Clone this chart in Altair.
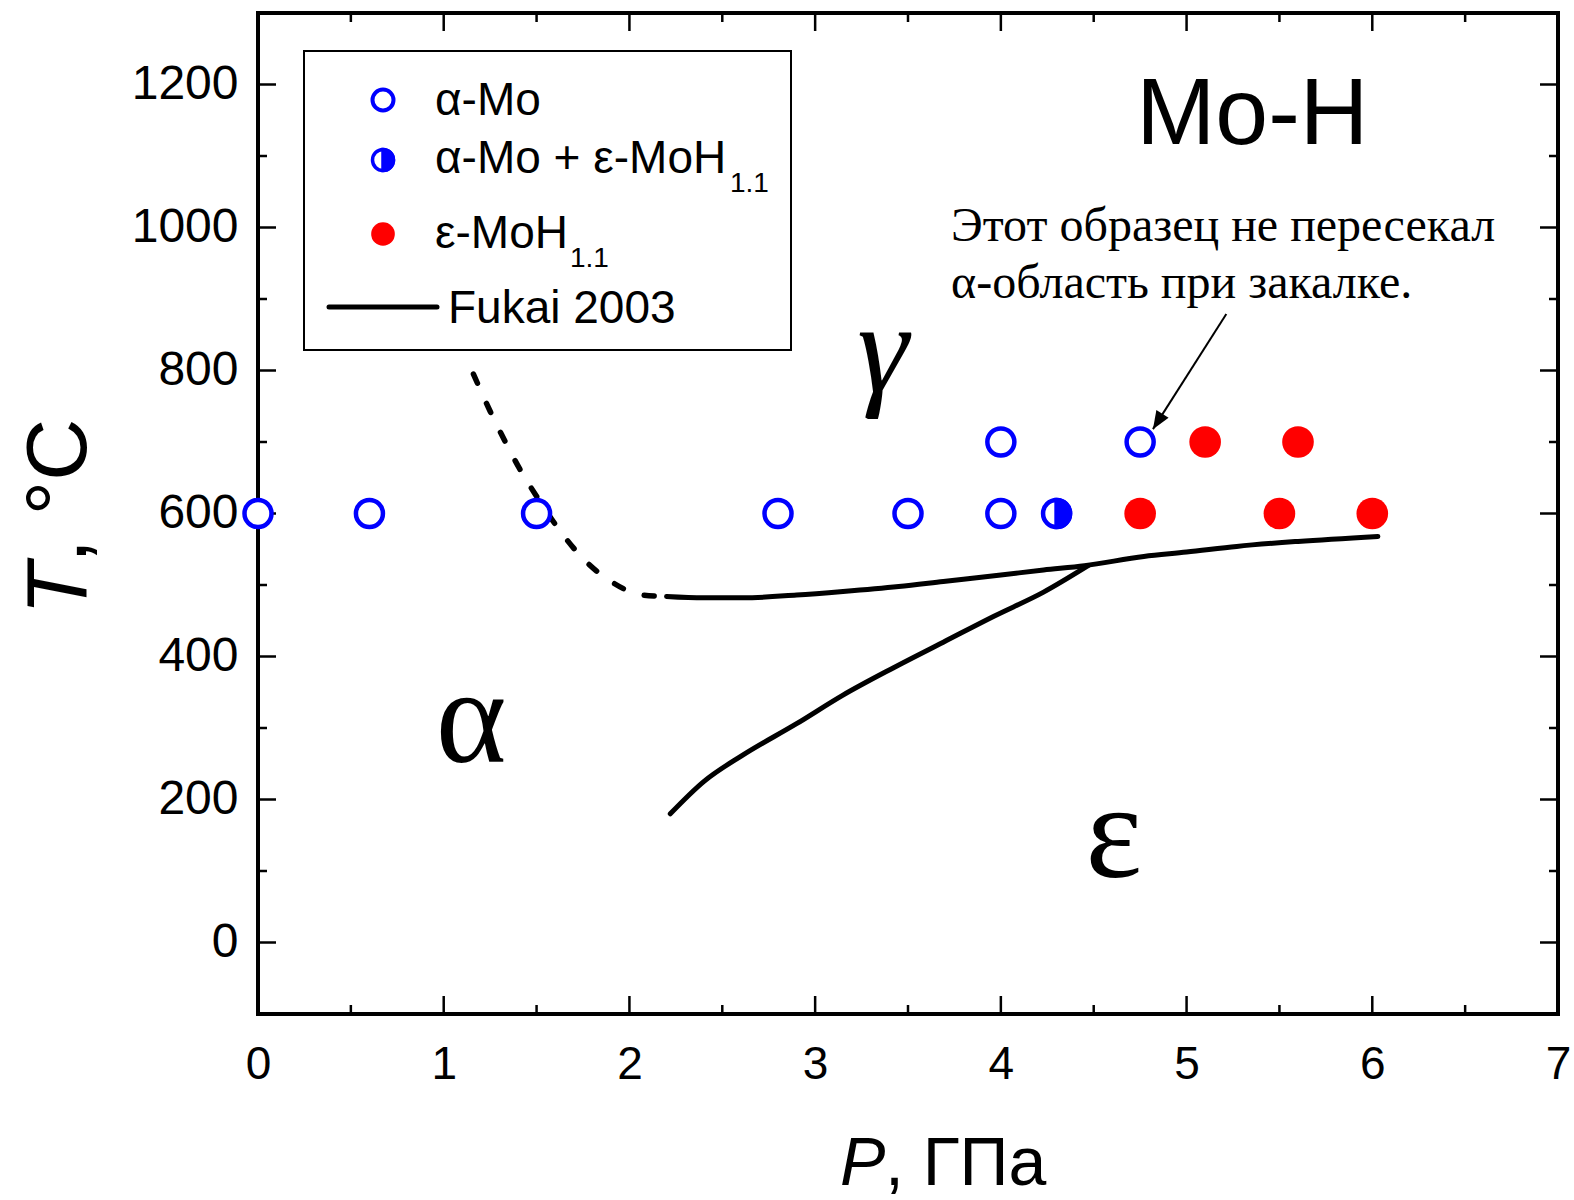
import altair as alt
import pandas as pd

# ---------------- data ----------------
alpha_P = [0.0, 0.6, 1.5, 2.8, 3.5, 4.0, 4.0, 4.75]
alpha_T = [600, 600, 600, 600, 600, 600, 700, 700]
mix_P = [4.3]
mix_T = [600]
eps_P = [4.75, 5.5, 6.0, 5.1, 5.6]
eps_T = [600, 600, 600, 700, 700]

fukai_upper_P = [2.20, 2.40, 2.61, 2.90, 3.15, 3.45, 3.69, 4.00, 4.23, 4.45, 4.77, 5.00, 5.27, 5.60, 6.03]
fukai_upper_T = [484, 482, 482, 486, 491, 498, 505, 514, 521, 527, 540, 546, 554, 561, 568]
fukai_lower_P = [2.22, 2.40, 2.61, 2.90, 3.15, 3.42, 3.69, 3.96, 4.23, 4.47]
fukai_lower_T = [180, 225, 262, 306, 346, 384, 420, 456, 490, 527]
dashed_P = [1.16, 1.25, 1.33, 1.41, 1.50, 1.62, 1.75, 1.90, 2.07, 2.20]
dashed_T = [795, 743, 701, 662, 624, 578, 537, 505, 486, 484]

x_major = [0, 1, 2, 3, 4, 5, 6, 7]
x_minor = [0.5, 1.5, 2.5, 3.5, 4.5, 5.5, 6.5]
y_major = [0, 200, 400, 600, 800, 1000, 1200]
y_minor = [-100, 100, 300, 500, 700, 900, 1100, 1300]

greek_text = ["α", "ε"]
greek_P = [1.147, 4.608]
greek_T = [252, 91]
gamma_text = "γ"
gamma_P = 3.364
gamma_T = 771

title_text = "Mo-H"
title_P = 5.354
title_T = 1117

note_lines = ["Этот образец не пересекал", "α-область при закалке."]
note_P = [3.732, 3.732]
note_T = [981, 901]

arrow_P = [5.214, 4.819]
arrow_T = [879, 718]

legend_labels = ["α-Mo", "α-Mo + ε-MoH", "ε-MoH", "Fukai 2003"]

W, H = 1300, 1001
BLUE = "#0000FF"
RED = "#FF0000"
SANS = "Liberation Sans"
SERIF = "Liberation Serif"

xs = alt.Scale(domain=[0, 7], nice=False, zero=False)
ys = alt.Scale(domain=[-100, 1300], nice=False, zero=False)
xaxis = alt.Axis(values=x_major, ticks=False, domain=False, grid=False, labelFontSize=46,
                 labelFont=SANS, labelColor="black", labelPadding=28, title=None, format="d",
                 labelFlush=False, labelOverlap=False)
yaxis = alt.Axis(values=y_major, ticks=False, domain=False, grid=False, labelFontSize=48,
                 labelFont=SANS, labelColor="black", labelPadding=20, title=None, format="d",
                 labelFlush=False, labelOverlap=False)


def X(f="P"):
    return alt.X(f"{f}:Q", scale=xs, axis=xaxis)


def Y(f="T"):
    return alt.Y(f"{f}:Q", scale=ys, axis=yaxis)


one = pd.DataFrame({"a": [0]})


def df_line(P, T):
    return pd.DataFrame({"P": P, "T": T, "i": list(range(len(P)))})


def txt(text, x, y, size, font=SANS, align="left", baseline="alphabetic", style="normal", angle=0):
    return alt.Chart(one).mark_text(text=text, align=align, baseline=baseline, fontSize=size,
                                    font=font, fontStyle=style, angle=angle, color="black").encode(
        x=alt.value(x), y=alt.value(y))


layers = []

# frame
layers.append(alt.Chart(one).mark_rect(filled=False, stroke="black", strokeWidth=4).encode(
    x=alt.value(0), x2=alt.value(W), y=alt.value(0), y2=alt.value(H)))

# ticks (inward) on all four sides
for vals, big in [(x_major, True), (x_minor, False)]:
    L = 18 if big else 9
    d = pd.DataFrame({"P": vals})
    layers.append(alt.Chart(d).mark_rule(color="black", strokeWidth=2.5).encode(
        x=X(), y=alt.value(H), y2=alt.value(H - L)))
    layers.append(alt.Chart(d).mark_rule(color="black", strokeWidth=2.5).encode(
        x=X(), y=alt.value(0), y2=alt.value(L)))
for vals, big in [(y_major, True), (y_minor, False)]:
    L = 18 if big else 9
    d = pd.DataFrame({"T": vals})
    layers.append(alt.Chart(d).mark_rule(color="black", strokeWidth=2.5).encode(
        y=Y(), x=alt.value(0), x2=alt.value(L)))
    layers.append(alt.Chart(d).mark_rule(color="black", strokeWidth=2.5).encode(
        y=Y(), x=alt.value(W), x2=alt.value(W - L)))

# curves
layers.append(alt.Chart(df_line(dashed_P, dashed_T)).mark_line(
    color="black", strokeWidth=5.5, strokeDash=[10, 22], strokeCap="round",
    interpolate="monotone").encode(x=X(), y=Y(), order="i:Q"))
layers.append(alt.Chart(df_line(fukai_upper_P, fukai_upper_T)).mark_line(
    color="black", strokeWidth=5, strokeCap="round", interpolate="monotone").encode(
    x=X(), y=Y(), order="i:Q"))
layers.append(alt.Chart(df_line(fukai_lower_P, fukai_lower_T)).mark_line(
    color="black", strokeWidth=5, strokeCap="round", interpolate="monotone").encode(
    x=X(), y=Y(), order="i:Q"))

# points
HALF = "M0,-1A1,1,0,0,1,0,1Z"
layers.append(alt.Chart(pd.DataFrame({"P": alpha_P, "T": alpha_T})).mark_point(
    shape="circle", filled=False, fill="white", fillOpacity=1, stroke=BLUE, strokeWidth=4.5,
    size=730, opacity=1).encode(x=X(), y=Y()))
layers.append(alt.Chart(pd.DataFrame({"P": mix_P, "T": mix_T})).mark_point(
    shape="circle", filled=False, fill="white", fillOpacity=1, stroke=BLUE, strokeWidth=4.5,
    size=730, opacity=1).encode(x=X(), y=Y()))
layers.append(alt.Chart(pd.DataFrame({"P": mix_P, "T": mix_T})).mark_point(
    shape=HALF, filled=True, fill=BLUE, stroke=BLUE, strokeWidth=4.5, size=730, opacity=1).encode(
    x=X(), y=Y()))
layers.append(alt.Chart(pd.DataFrame({"P": eps_P, "T": eps_T})).mark_point(
    shape="circle", filled=True, fill=RED, size=1000, opacity=1, strokeWidth=0).encode(x=X(), y=Y()))

# arrow
layers.append(alt.Chart(df_line(arrow_P, arrow_T)).mark_line(color="black", strokeWidth=2).encode(
    x=X(), y=Y(), order="i:Q"))
layers.append(alt.Chart(pd.DataFrame({"P": arrow_P[1:], "T": arrow_T[1:]})).mark_point(
    shape="M0,0L0.4,1L-0.4,1Z", filled=True, fill="black", size=1296, angle=212, opacity=1,
    strokeWidth=0).encode(x=X(), y=Y()))

# region labels
layers.append(alt.Chart(pd.DataFrame({"P": greek_P, "T": greek_T, "t": greek_text})).mark_text(
    font=SERIF, fontSize=135, align="center", baseline="alphabetic", color="black").encode(
    x=X(), y=Y(), text="t:N"))
layers.append(alt.Chart(pd.DataFrame({"P": [gamma_P], "T": [gamma_T], "t": [gamma_text]})).mark_text(
    font=SERIF, fontSize=130, fontStyle="italic", align="center", baseline="alphabetic",
    color="black").encode(x=X(), y=Y(), text="t:N"))
layers.append(alt.Chart(pd.DataFrame({"P": [title_P], "T": [title_T], "t": [title_text]})).mark_text(
    font=SANS, fontSize=95, align="center", baseline="alphabetic", color="black").encode(
    x=X(), y=Y(), text="t:N"))
layers.append(alt.Chart(pd.DataFrame({"P": note_P, "T": note_T, "t": note_lines})).mark_text(
    font=SERIF, fontSize=48, align="left", baseline="alphabetic", color="black").encode(
    x=X(), y=Y(), text="t:N"))

# legend
layers.append(alt.Chart(one).mark_rect(fill="white", stroke="black", strokeWidth=2).encode(
    x=alt.value(46), x2=alt.value(533), y=alt.value(38), y2=alt.value(337)))
layers.append(alt.Chart(one).mark_point(shape="circle", filled=False, fill="white", fillOpacity=1,
                                        stroke=BLUE, strokeWidth=4, size=441, opacity=1).encode(
    x=alt.value(125), y=alt.value(87)))
layers.append(alt.Chart(one).mark_point(shape="circle", filled=False, fill="white", fillOpacity=1,
                                        stroke=BLUE, strokeWidth=3.5, size=441, opacity=1).encode(
    x=alt.value(125), y=alt.value(147)))
layers.append(alt.Chart(one).mark_point(shape=HALF, filled=True, fill=BLUE, stroke=BLUE,
                                        strokeWidth=3.5, size=441, opacity=1).encode(
    x=alt.value(125), y=alt.value(147)))
layers.append(alt.Chart(one).mark_point(shape="circle", filled=True, fill=RED, size=560, opacity=1,
                                        strokeWidth=0).encode(x=alt.value(125), y=alt.value(221)))
layers.append(alt.Chart(one).mark_rule(color="black", strokeWidth=5, strokeCap="round").encode(
    x=alt.value(71), x2=alt.value(179), y=alt.value(294)))
layers.append(txt(legend_labels[0], 177, 102, 46))
layers.append(txt(legend_labels[1], 177, 160, 46))
layers.append(txt("1.1", 472, 179, 28))
layers.append(txt(legend_labels[2], 177, 235, 46))
layers.append(txt("1.1", 312, 254, 28))
layers.append(txt(legend_labels[3], 190, 310, 46))

# axis titles
layers.append(txt("P", 582, 1172, 68, style="italic"))
layers.append(txt(", ГПа", 627, 1172, 68))
layers.append(txt("T", -172, 602, 86, style="italic", angle=270))
layers.append(txt(", °C", -172, 550, 86, angle=270))

chart = alt.layer(*layers).properties(
    width=W, height=H,
    autosize=alt.AutoSizeParams(type="none"),
    padding={"left": 258, "top": 13, "right": 16, "bottom": 186},
).configure_view(stroke=None).configure(background="white")

chart.save("out.html", embed_options={"renderer": "svg", "actions": False})
